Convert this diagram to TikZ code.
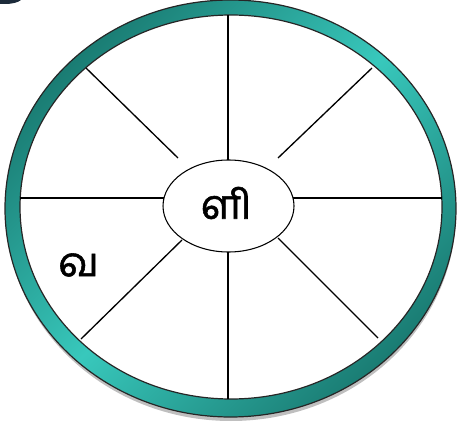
\documentclass[tikz,border=0pt]{standalone}
\usepackage{fontspec}
\usetikzlibrary{shapes.geometric}
\newfontfamily\tamil[Script=Tamil, FakeBold=1.3]{Hind Madurai}
\definecolor{tealdark}{HTML}{1A7C73}
\definecolor{teallight}{HTML}{38C8BC}
\definecolor{navy}{HTML}{1C2B3A}
\tikzset{
  spoke/.style={line width=1pt, black},
  ringline/.style={line width=0.9pt, black!85},
  lbl/.style={font=\tamil\fontsize{30.5}{36}\selectfont, inner sep=0pt},
}
\begin{document}
\begin{tikzpicture}[x=0.75pt,y=-0.75pt]
\useasboundingbox (0,0) rectangle (457,424);
% shadow
\fill[black!25] (231,212) ellipse [x radius=225, y radius=209];
% ring
\shade[left color=tealdark, right color=tealdark, middle color=teallight, shading angle=45]
  (230.5,208.5) ellipse [x radius=225.5, y radius=208.5];
\fill[white] (231,207) ellipse [x radius=211, y radius=192];
\draw[ringline] (230.5,208.5) ellipse [x radius=225.5, y radius=208.5];
\draw[ringline] (231,207) ellipse [x radius=211, y radius=192];
% top-left mark
\fill[navy] (0,0) -- (21,0) .. controls (18,2.5) and (12,4) .. (5,4) -- (0,4) -- cycle;
% centre
\node[draw, line width=0.8pt, ellipse, minimum width=98.25pt, minimum height=69pt, inner sep=0pt] (c) at (228.5,206) {};
\node[lbl] (t1) at (226.5,203) {ளி};
\node[lbl] (t2) at (78.5,265) {வ};
% spoke ends
\coordinate (ot) at (228,15);   \coordinate (it) at (228,160);
\coordinate (ob) at (228,399);  \coordinate (ib) at (228,252);
\coordinate (ol) at (20,198);   \coordinate (il) at (164,198);
\coordinate (or) at (442,198);  \coordinate (ir) at (293,198);
\coordinate (otl) at (86,68);   \coordinate (itl) at (178,158);
\coordinate (otr) at (372,68);  \coordinate (itr) at (278,158);
\coordinate (obl) at (81,339);  \coordinate (ibl) at (182,240);
\coordinate (obr) at (378,338); \coordinate (ibr) at (278,238);
\foreach \a in {t,b,l,r,tl,tr,bl,br}{\draw[spoke] (o\a) -- (i\a);}
\end{tikzpicture}
\end{document}
